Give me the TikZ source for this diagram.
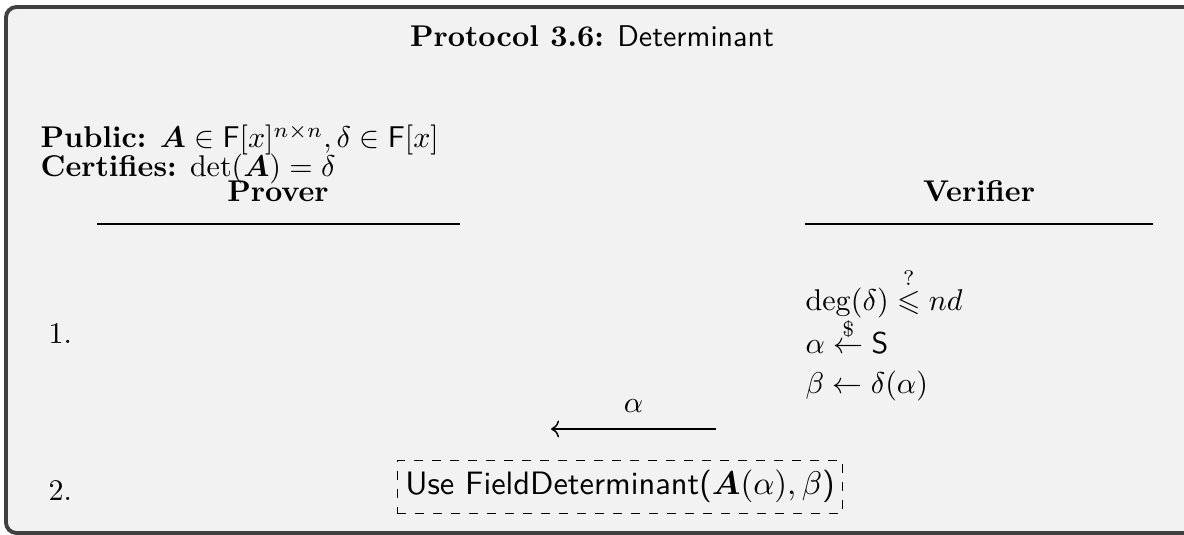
\documentclass[tikz,border=0pt]{standalone}
\usepackage{amsmath,amssymb}
\usetikzlibrary{arrows.meta,positioning}
\definecolor{ProtoFrame}{HTML}{404040}
\definecolor{ProtoFill}{HTML}{F2F2F2}
\definecolor{ProtoInk}{HTML}{000000}
\tikzset{
    % Base text node
    basenode/.style={
        inner sep=0pt,
        anchor=base west,
        text=ProtoInk,
        font=\normalsize
    },
    % Title of the protocol
    titlenode/.style={
        basenode,
        anchor=base
    },
    % Party heading
    partynode/.style={
        basenode,
        anchor=base,
        font=\normalsize\bfseries
    },
    % Round number
    roundnode/.style={
        basenode
    },
    % Outer frame
    framebox/.style={
        draw=ProtoFrame,
        fill=ProtoFill,
        line width=1.3pt,
        rounded corners=3.5pt
    },
    % Rule under party heading
    partyrule/.style={
        line width=0.4pt,
        draw=ProtoInk
    },
    % Message arrow
    msgarrow/.style={
        ->,
        >={To},
        line width=0.5pt,
        draw=ProtoInk
    },
    % Sub-protocol box
    subbox/.style={
        draw=ProtoInk,
        dashed,
        line width=0.4pt,
        minimum width=148.5pt,
        minimum height=17.6pt,
        inner sep=0pt,
        text height=7.6pt,
        text depth=2.6pt,
        font=\fontsize{10.8pt}{13pt}\selectfont
    }
}

\begin{document}
\begin{tikzpicture}[x=0.33333pt, y=-0.33333pt]
    \useasboundingbox (0,0) rectangle (1184,535);
    \clip (0,0) rectangle (1184,535);
    \draw[framebox] (6,7) rectangle (1220,533);

    \node[titlenode] (title) at (592,47) {\textbf{Protocol 3.6:} \textsf{Determinant}};
    \node[basenode] (public) at (40,148) {\textbf{Public:} $\boldsymbol{A} \in \mathsf{F}[x]^{n\times n}, \delta \in \mathsf{F}[x]$};
    \node[basenode] (certifies) at (40,177) {\textbf{Certifies:} $\det(\boldsymbol{A}) = \delta$};

    \node[partynode] (prover) at (278,202) {Prover};
    \node[partynode] (verifier) at (979,202) {Verifier};
    \coordinate (proverL) at (97,224);
    \coordinate (proverR) at (460,224);
    \coordinate (verifierL) at (805,224);
    \coordinate (verifierR) at (1153,224);
    \draw[partyrule] (proverL) -- (proverR);
    \draw[partyrule] (verifierL) -- (verifierR);

    \node[roundnode] (r1) at (48,344) {1.};
    \node[roundnode] (r2) at (48,501) {2.};

    \node[basenode] (vdeg) at (805,311) {$\deg(\delta) \overset{?}{\leqslant} nd$};
    \node[basenode] (vrand) at (805,354) {$\alpha \overset{\$}{\leftarrow} \mathsf{S}$};
    \node[basenode] (vbeta) at (805,394) {$\beta \leftarrow \delta(\alpha)$};

    \coordinate (msgR) at (716,429);
    \coordinate (msgL) at (551,429);
    \draw[msgarrow] (msgR) -- node[above=2pt] (msglabel) {$\alpha$} (msgL);

    \node[subbox] (fielddet) at (620,487) {\textsf{Use FieldDeterminant(}$\boldsymbol{A}(\alpha), \beta$\textsf{)}};
\end{tikzpicture}
\end{document}
